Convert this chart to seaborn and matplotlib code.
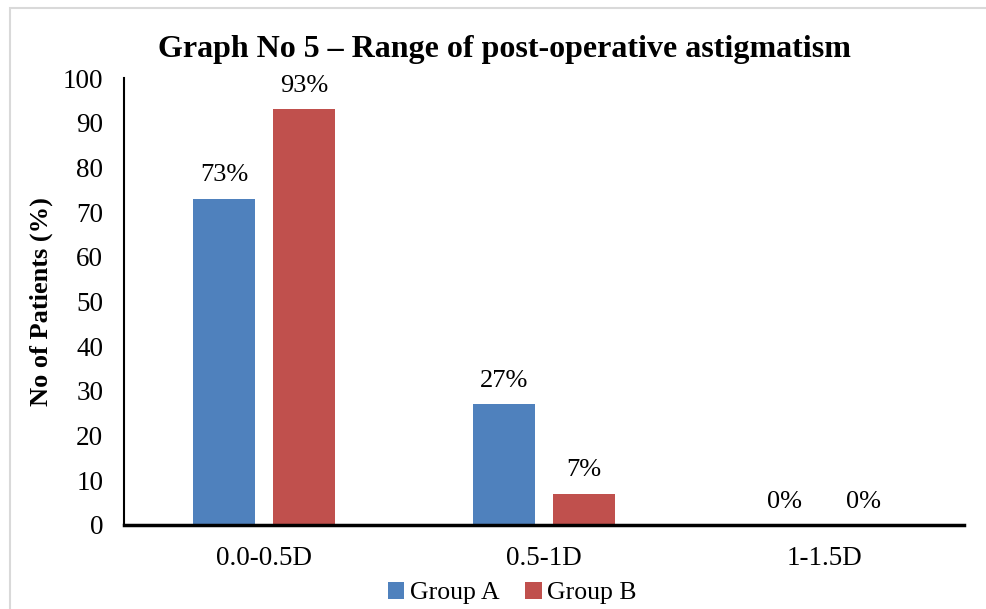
import matplotlib
matplotlib.use("Agg")
import matplotlib.pyplot as plt
import seaborn as sns
import pandas as pd
from matplotlib.patches import Rectangle, Patch

categories = ["0.0-0.5D", "0.5-1D", "1-1.5D"]
groups = ["Group A", "Group B"]
group_a = [73, 27, 0]
group_b = [93, 7, 0]
labels_a = ["73%", "27%", "0%"]
labels_b = ["93%", "7%", "0%"]
yticks = [0, 10, 20, 30, 40, 50, 60, 70, 80, 90, 100]

colors = ["#4F81BD", "#C0504D"]

df = pd.DataFrame({
    "Range": categories * 2,
    "Group": [groups[0]] * 3 + [groups[1]] * 3,
    "Value": group_a + group_b,
    "Label": labels_a + labels_b,
})

sns.set_theme(style="white")
plt.rcParams["font.family"] = ["Liberation Serif", "DejaVu Serif"]
plt.rcParams["text.color"] = "black"

fig = plt.figure(figsize=(9.87, 6.09), dpi=100)
ax = fig.add_axes([124 / 987, 84 / 609, 840 / 987, 447 / 609])

sns.barplot(data=df, x="Range", y="Value", hue="Group", order=categories,
            hue_order=groups, palette=colors, width=0.568, gap=0.22,
            saturation=1, legend=False, ax=ax, errorbar=None, linewidth=0)

for cont, labs in zip(ax.containers, [labels_a, labels_b]):
    ax.bar_label(cont, labels=labs, padding=9, fontsize=19, color="black")

ax.set_ylim(0, 100)
ax.set_xlim(-0.5, 2.5)
ax.set_yticks(yticks)
ax.set_yticklabels([str(t) for t in yticks])
ax.tick_params(axis="both", length=0, labelsize=19.5, colors="black")
ax.tick_params(axis="y", pad=15)
ax.tick_params(axis="x", pad=15)
ax.set_xlabel("")
ax.set_ylabel("No of Patients (%)", fontsize=19, fontweight="bold", color="black")
ax.yaxis.set_label_coords(-0.098, 0.50)
ax.yaxis.label.set_va("center")

for s in ["top", "right"]:
    ax.spines[s].set_visible(False)
ax.spines["left"].set_color("black")
ax.spines["left"].set_linewidth(1.5)
ax.spines["bottom"].set_color("black")
ax.spines["bottom"].set_linewidth(2.5)

fig.text(504 / 987, 1 - 50 / 609, "Graph No 5 \u2013 Range of post-operative astigmatism",
         ha="center", va="center", fontsize=23, fontweight="bold", color="black")

handles = [Patch(facecolor=c, edgecolor="none") for c in colors]
fig.legend(handles, groups, loc="center", bbox_to_anchor=(512 / 987, 1 - 593 / 609),
           ncol=2, frameon=False, fontsize=18.5, handlelength=0.65, handleheight=0.65,
           handletextpad=0.2, columnspacing=1.0, borderaxespad=0, labelcolor="black")

fig.patches.append(Rectangle((10 / 987, -0.1), 1.2, 1 - 8 / 609 + 0.1,
                             transform=fig.transFigure, fill=False,
                             edgecolor="#d9d9d9", linewidth=1.5))

fig.savefig("out.png", dpi=100)
